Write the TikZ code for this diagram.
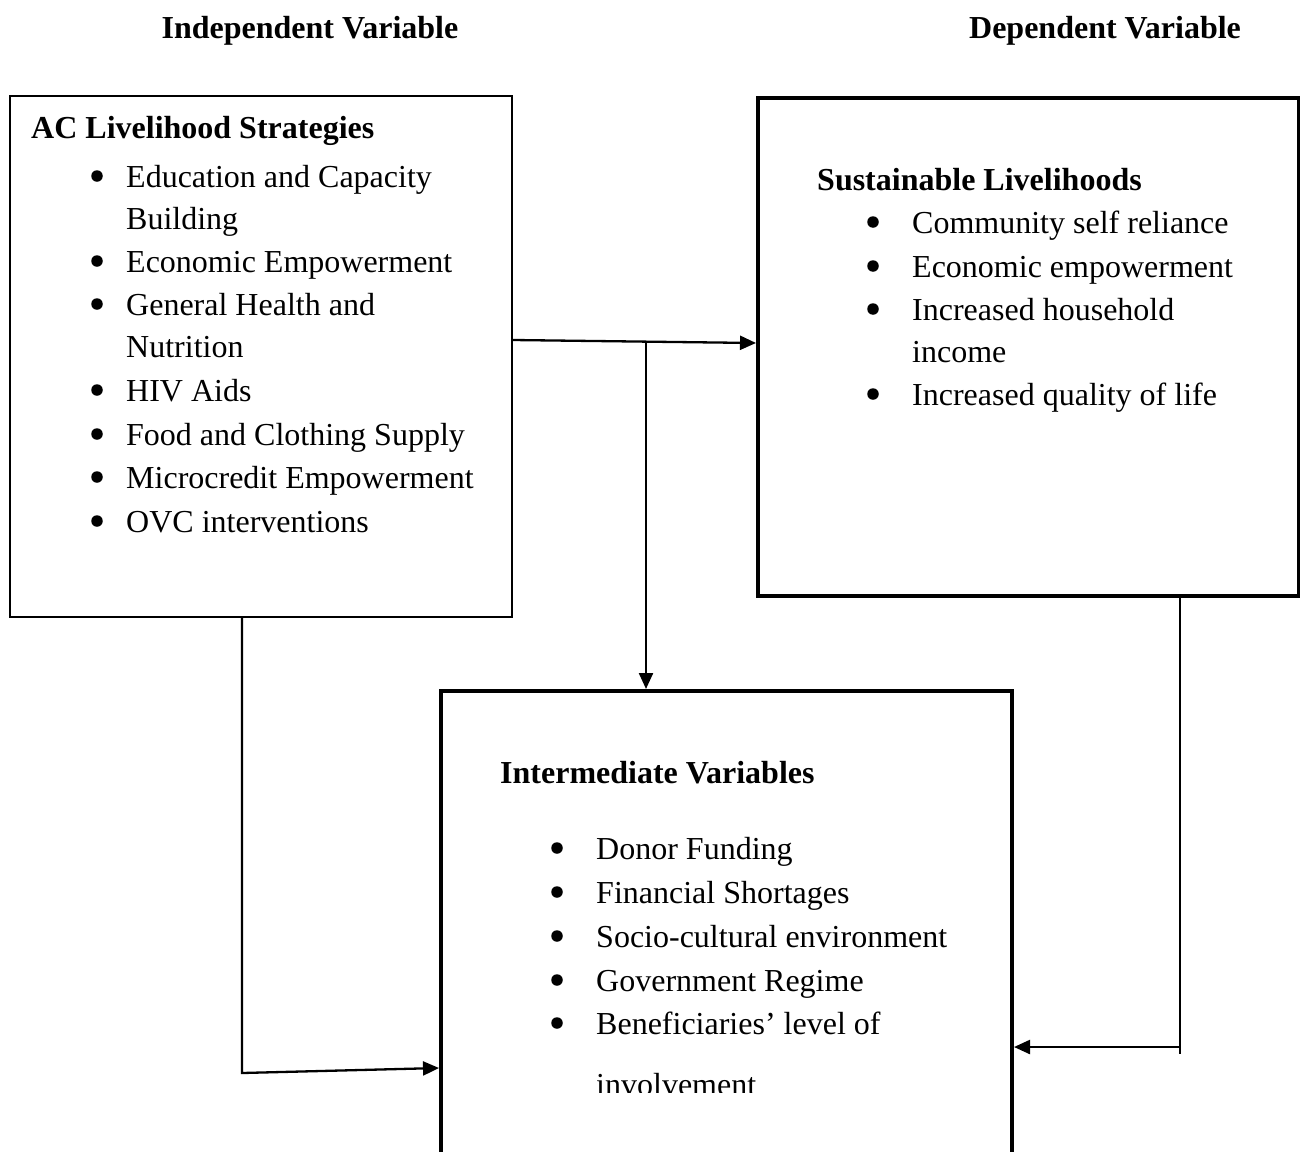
\documentclass[tikz,border=0pt]{standalone}
\usepackage{fontspec}
\setmainfont{Liberation Serif}
\usetikzlibrary{arrows.meta}
\newcommand\bodyfnt{\fontsize{32}{38}\selectfont}
\tikzset{
  txt/.style={anchor=base west, inner sep=0pt, font=\bodyfnt},
  head/.style={anchor=base west, inner sep=0pt, font=\bodyfnt\bfseries},
  bul/.style={circle, fill, inner sep=0pt, minimum size=11.5pt},
  thinbox/.style={draw, line width=1.5pt, minimum width=502pt, minimum height=521pt, inner sep=0pt},
  thickbox/.style={draw, line width=4pt, inner sep=0pt},
  conn/.style={line width=2.3pt},
  arr/.style={conn, -{Triangle[length=16pt,width=14pt]}}
}
\begin{document}
\begin{tikzpicture}[x=1pt,y=-1pt]
\useasboundingbox (0,0) rectangle (1300,1151);
\clip (0,0) rectangle (1300,1151);
% headings
\node[head, anchor=base] (hIV) at (310,38) {Independent Variable};
\node[head, anchor=base] (hDV) at (1105,38) {Dependent Variable};
% boxes
\node[thinbox] (L) at (261,356.5) {};
\node[thickbox, minimum width=541pt, minimum height=498pt] (R) at (1028.5,347) {};
\node[thickbox, minimum width=571pt, minimum height=490pt] (B) at (726.5,936) {};
% left box text
\node[head] (Lh) at (31,138) {AC Livelihood Strategies};
\foreach \y/\t [count=\i] in {187/Education and Capacity, 229/Building, 272/Economic Empowerment, 315/General Health and, 357/Nutrition, 401/HIV Aids, 445/Food and Clothing Supply, 488/Microcredit Empowerment, 532/OVC interventions}
  \node[txt] (Lt\i) at (126,\y) {\t};
\foreach \y [count=\i] in {187,272,315,401,445,488,532}
  \node[bul] (Lb\i) at (97,\y-11) {};
% right box text
\node[head] (Rh) at (817,190) {Sustainable Livelihoods};
\foreach \y/\t [count=\i] in {233/Community self reliance, 277/Economic empowerment, 320/Increased household, 362/income, 405/Increased quality of life}
  \node[txt] (Rt\i) at (912,\y) {\t};
\foreach \y [count=\i] in {233,277,320,405}
  \node[bul] (Rb\i) at (873,\y-11) {};
% bottom box text
\node[head] (Bh) at (500,783) {Intermediate Variables};
\foreach \y/\t [count=\i] in {859/Donor Funding, 903/Financial Shortages, 947/Socio-cultural environment, 991/Government Regime, 1034/Beneficiaries’ level of}
  \node[txt] (Bt\i) at (596,\y) {\t};
\foreach \y [count=\i] in {859,903,947,991,1034}
  \node[bul] (Bb\i) at (557,\y-11) {};
\begin{scope}
  \clip (441,1040) rectangle (1012,1092);
  \node[txt] (Bt6) at (596,1095) {involvement};
\end{scope}
% connectors
\coordinate (j) at (646,342);
\draw[arr] (L.east |- 0,340) -- (R.west |- 0,343);
\draw[arr] (j) -- (j |- B.north);
\coordinate (lc) at (242,1073);
\draw[arr] (L.south -| lc) -- (lc) -- (B.west |- 0,1068);
\coordinate (rc) at (1180,1054);
\draw[conn] (R.south -| rc) -- (rc);
\draw[arr] (1180,1047) -- (B.east |- 0,1047);
\end{tikzpicture}
\end{document}
